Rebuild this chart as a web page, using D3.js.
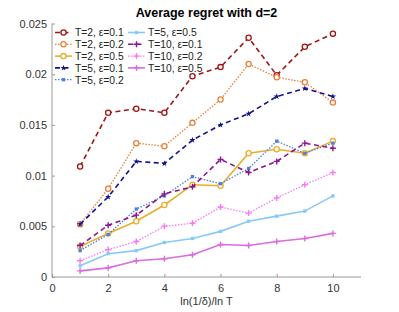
<!DOCTYPE html>
<html lang="en">
<head>
<meta charset="UTF-8" />
<title>Average regret with d=2</title>
<script src="https://d3js.org/d3.v7.min.js"></script>
<style>
  html, body { margin: 0; padding: 0; background: #fff; }
  svg { display: block; font-family: 'Liberation Sans', Arial, sans-serif; }
  .axis path, .axis line { stroke: #9a9a9a; }
  .axis text { fill: #333; font-size: 11px; }
  .legend text { fill: #222; font-size: 10.3px; }
</style>
</head>
<body>
<div id="chart"></div>
<script>
  const xs = [1, 2, 3, 4, 5, 6, 7, 8, 9, 10];
  const labels = ["T=2, \u03b5=0.1", "T=2, \u03b5=0.2", "T=2, \u03b5=0.5", "T=5, \u03b5=0.1", "T=5, \u03b5=0.2",
                  "T=5, \u03b5=0.5", "T=10, \u03b5=0.1", "T=10, \u03b5=0.2", "T=10, \u03b5=0.5"];
  const t2e01 = [0.0109, 0.0162, 0.0166, 0.0162, 0.0198, 0.0207, 0.0236, 0.0199, 0.0227, 0.0240];
  const t2e02 = [0.0052, 0.0087, 0.0132, 0.0129, 0.0152, 0.0175, 0.0210, 0.0197, 0.0192, 0.0172];
  const t2e05 = [0.0030, 0.0043, 0.0055, 0.0071, 0.0091, 0.0090, 0.0122, 0.0126, 0.0122, 0.0134];
  const t5e01 = [0.0052, 0.0079, 0.0114, 0.0112, 0.0135, 0.0150, 0.0161, 0.0178, 0.0186, 0.0178];
  const t5e02 = [0.0026, 0.0042, 0.0067, 0.0080, 0.0099, 0.0092, 0.0107, 0.0134, 0.0122, 0.0132];
  const t5e05 = [0.0011, 0.0023, 0.0026, 0.0034, 0.0038, 0.0045, 0.0055, 0.0060, 0.0065, 0.0080];
  const t10e01 = [0.0031, 0.0051, 0.0061, 0.0082, 0.0089, 0.0116, 0.0103, 0.0114, 0.0132, 0.0127];
  const t10e02 = [0.0016, 0.0027, 0.0035, 0.0050, 0.0053, 0.0069, 0.0063, 0.0078, 0.0091, 0.0103];
  const t10e05 = [0.0006, 0.0009, 0.0016, 0.0018, 0.0022, 0.0032, 0.0031, 0.0035, 0.0038, 0.0043];
  const xTicks = [0, 2, 4, 6, 8, 10];
  const yTicks = [0, 0.005, 0.01, 0.015, 0.02, 0.025];

  const series = [
    { label: labels[0], values: t2e01, color: "#a01515", dash: "5,3.5", marker: "circle" },
    { label: labels[1], values: t2e02, color: "#e8803a", dash: "1.5,1.5", marker: "circle" },
    { label: labels[2], values: t2e05, color: "#e8ae2a", dash: null, marker: "circle" },
    { label: labels[3], values: t5e01, color: "#12128f", dash: "5,3.5", marker: "star" },
    { label: labels[4], values: t5e02, color: "#4f7fe6", dash: "1.5,1.5", marker: "square" },
    { label: labels[5], values: t5e05, color: "#86cbf7", dash: null, marker: "square" },
    { label: labels[6], values: t10e01, color: "#8c1591", dash: "5,3.5", marker: "plus" },
    { label: labels[7], values: t10e02, color: "#f77af7", dash: "1.5,1.5", marker: "plus" },
    { label: labels[8], values: t10e05, color: "#dc6cdc", dash: null, marker: "plus" }
  ];

  const W = 399, H = 312;
  const svg = d3.select("#chart").append("svg").attr("width", W).attr("height", H);

  const x = d3.scaleLinear().domain([0, 11]).range([52, 361]);
  const y = d3.scaleLinear().domain([0, 0.025]).range([277, 23.5]);

  // axes, ticks pointing inward like matlab
  svg.append("g").attr("class", "axis")
    .attr("transform", `translate(0,${y(0)})`)
    .call(d3.axisBottom(x).tickValues(xTicks).tickSize(-3).tickPadding(7).tickFormat(d3.format("d")))
    .call(g => g.select(".domain").attr("d", `M${x(0)},0H${x(11)}`));

  svg.append("g").attr("class", "axis")
    .attr("transform", `translate(${x(0)},0)`)
    .call(d3.axisLeft(y).tickValues(yTicks).tickSize(-3).tickPadding(5).tickFormat(d => d === 0 ? "0" : String(+d.toFixed(3))))
    .call(g => g.select(".domain").attr("d", `M0,${y(0)}V${y(0.025)}`));

  svg.append("text").attr("x", (x(0) + x(11)) / 2).attr("y", 17)
    .attr("text-anchor", "middle").attr("font-weight", "bold").attr("font-size", "12.5px")
    .attr("fill", "#000").text("Average regret with d=2");

  svg.append("text").attr("x", (x(0) + x(11)) / 2).attr("y", 305)
    .attr("text-anchor", "middle").attr("font-size", "11px").attr("fill", "#333")
    .text("ln(1/\u03b4)/ln T");

  const line = d3.line().x((d, i) => x(xs[i])).y(d => y(d));

  function drawMarker(g, s, cx, cy) {
    if (s.marker === "circle") {
      g.append("circle").attr("cx", cx).attr("cy", cy).attr("r", 2.6)
        .attr("fill", "#fff").attr("stroke", s.color).attr("stroke-width", 1.3);
    } else if (s.marker === "plus") {
      g.append("path").attr("d", `M${cx - 3},${cy}H${cx + 3}M${cx},${cy - 3}V${cy + 3}`)
        .attr("stroke", s.color).attr("stroke-width", 1.4);
    } else {
      const type = s.marker === "star" ? d3.symbolStar : d3.symbolSquare;
      g.append("path").attr("d", d3.symbol().type(type).size(s.marker === "star" ? 12 : 11)())
        .attr("transform", `translate(${cx},${cy})`).attr("fill", s.color);
    }
  }

  series.forEach(s => {
    const g = svg.append("g");
    g.append("path").attr("d", line(s.values)).attr("fill", "none")
      .attr("stroke", s.color).attr("stroke-width", s.dash === "1.5,1.5" ? 1.3 : 1.6)
      .attr("stroke-dasharray", s.dash);
    s.values.forEach((v, i) => drawMarker(g, s, x(xs[i]), y(v)));
  });

  // legend, two columns, no box
  const leg = svg.append("g").attr("class", "legend");
  series.forEach((s, i) => {
    const col = i < 5 ? 0 : 1;
    const row = i < 5 ? i : i - 5;
    const lx = col === 0 ? 55 : 128;
    const ly = 32.5 + row * 11.8;
    const g = leg.append("g");
    g.append("path").attr("d", `M${lx},${ly}H${lx + 17}`).attr("stroke", s.color)
      .attr("stroke-width", s.dash === "1.5,1.5" ? 1.3 : 1.6).attr("stroke-dasharray", s.dash);
    drawMarker(g, s, lx + 8.5, ly);
    g.append("text").attr("x", lx + 20).attr("y", ly + 3.8).text(s.label);
  });
</script>
</body>
</html>
